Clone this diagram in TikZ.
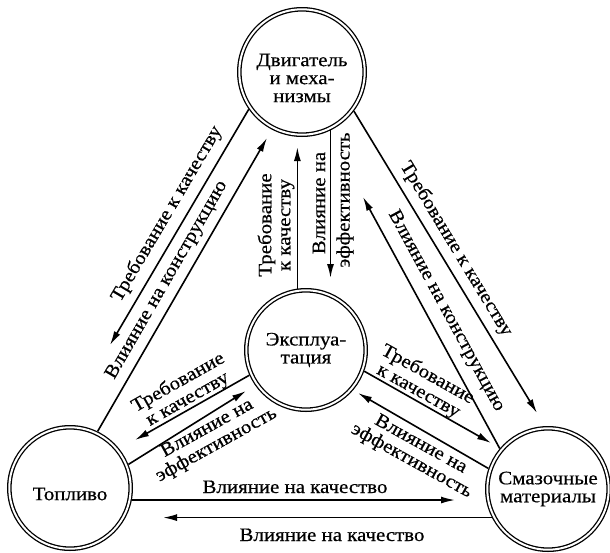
\documentclass[tikz,border=0pt]{standalone}
\usepackage{fontspec}
\setmainfont{Liberation Serif}[FakeStretch=1.1,FakeBold=0.5]
\usetikzlibrary{arrows.meta,calc}
\begin{document}
\begin{tikzpicture}[x=1pt,y=-1pt,
  ring/.style={circle, draw=black, line width=1.3pt, double=white, double distance=2pt,
    inner sep=0pt, outer sep=2.3pt, align=center, font=\fontsize{19}{18}\selectfont},
  conn/.style={line width=1.6pt, -{Latex[length=14pt,width=7pt]}},
  lbl/.style={inner sep=0pt, align=center, font=\fontsize{19}{19}\selectfont}]
\useasboundingbox (0,0) rectangle (610,552);
% circles
\node[ring, minimum size=125.4pt,
  label={[lbl,font=\fontsize{19}{18}\selectfont,yshift=-6pt]center:{Двигатель\\и меха-\\низмы}}] (D) at (302,72) {};
\node[ring, minimum size=121.4pt,
  label={[lbl,yshift=-6pt]center:{Топливо}}] (T) at (70,488) {};
\node[ring, minimum size=121.4pt] (S) at (548,489) {Смазочные\\материалы};
\node[ring, minimum size=119.4pt] (E) at (306,350) {Эксплуа-\\тация};
% arrow tips
\coordinate (t1) at (110,345);
\coordinate (t2) at (267,138);
\coordinate (t3) at (537,413);
\coordinate (t4) at (363,197);
\coordinate (t5) at (297,147);
\coordinate (t6) at (330,278);
\coordinate (t7) at (135,440);
\coordinate (t8) at (246,391);
\coordinate (t9) at (491,443);
\coordinate (t10) at (358,393);
\coordinate (t11) at (455,500);
\coordinate (t12) at (163,518);
% connectors
\draw[conn] (D.215) -- (t1);
\draw[conn] (T.64) -- (t2);
\draw[conn] (D.-37) -- (t3);
\draw[conn] (S.140) -- (t4);
\draw[conn] (E.98) -- (E.98 |- t5);
\draw[conn] (D.-64.5) -- (D.-64.5 |- t6);
\draw[conn] (E.204) -- (t7);
\draw[conn] (T.22) -- (t8);
\draw[conn] (E.-20) -- (t9);
\draw[conn] (S.161) -- (t10);
\draw[conn] (T.-11) -- (t11 |- T.-11);
\draw[conn] (S.207) -- (t12 |- S.207);
% labels
\node[lbl, rotate=59.5] (l1) at (167,214) {Требование к качеству};
\node[lbl, rotate=60] (l2) at (167,280) {Влияние на конструкцию};
\node[lbl, rotate=-58.8] (l3) at (456,249) {Требование к качеству};
\node[lbl, rotate=-61.5] (l4) at (446,311) {Влияние на конструкцию};
\node[lbl, rotate=90] (l5) at (276,225) {Требование\\к качеству};
\node[lbl, rotate=90] (l6a) at (319,203) {Влияние на};
\node[lbl, rotate=90] (l6b) at (345,200) {эффективность};
\node[lbl, rotate=29.5] (l7) at (183,391) {Требование\\к качеству};
\node[lbl, rotate=29] (l8) at (212,437) {Влияние на\\эффективность};
\node[lbl, rotate=-29] (l9) at (423,383) {Требование\\к качеству};
\node[lbl, rotate=-29] (l10) at (416,453) {Влияние на\\эффективность};
\node[lbl, anchor=base] (l11) at (295,493) {Влияние на качество};
\node[lbl, anchor=base] (l12) at (332,541) {Влияние на качество};
\end{tikzpicture}
\end{document}
